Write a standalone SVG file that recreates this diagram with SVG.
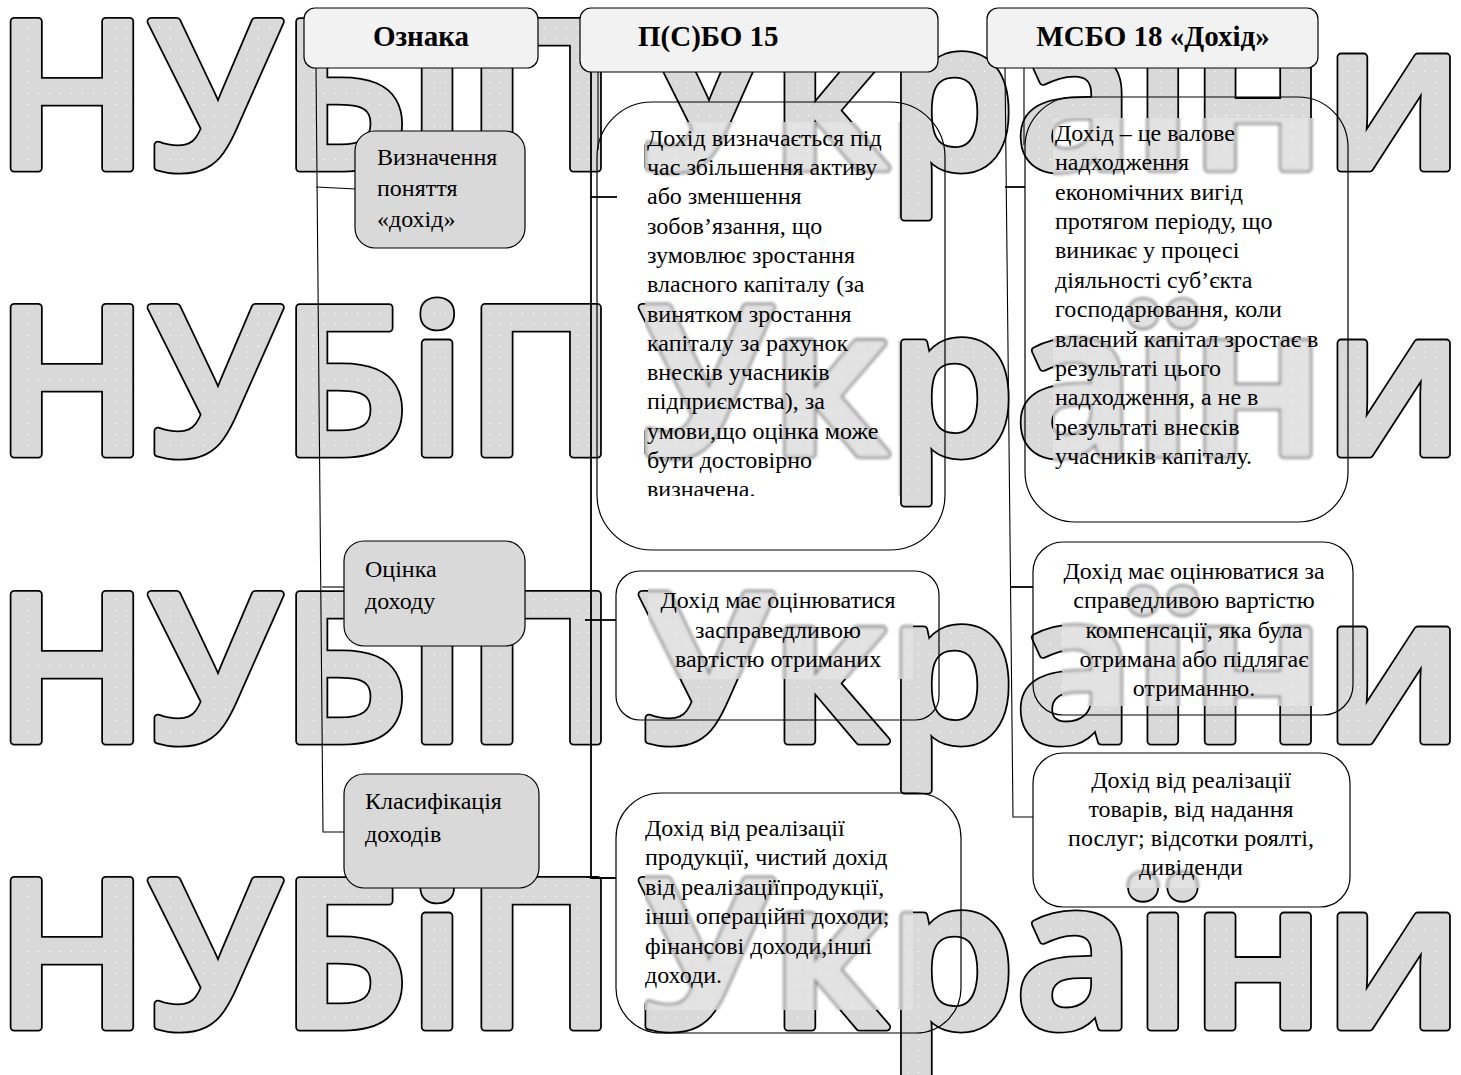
<svg xmlns="http://www.w3.org/2000/svg" xmlns:xlink="http://www.w3.org/1999/xlink" width="1461" height="1075" viewBox="0 0 1461 1075">
<style>
.wmt{font-family:"Open Sans","DejaVu Sans",sans-serif;font-weight:600;font-size:205px}
.wo{fill:#000;stroke:#000;stroke-width:9;stroke-linejoin:round}
.wi{fill:url(#dots);stroke:#d9d9d9;stroke-width:5.4;stroke-linejoin:round}
.hdr{fill:#f2f2f2;stroke:#000;stroke-width:1.2}
.gn{fill:#d9d9d9;stroke:#000;stroke-width:1.2}
.bx{fill:none;stroke:#000;stroke-width:1.2}
.ln{fill:none;stroke:#000;stroke-width:1.1}
.lt{fill:none;stroke:#000;stroke-width:1.8}
.ht{font-family:"Liberation Serif","Times New Roman",serif;font-weight:bold;font-size:29px;fill:#000}
.t{font-family:"Liberation Serif","Times New Roman",serif;font-size:24px;fill:#000}
.c{text-anchor:middle}
.patch{fill:#fff}
</style>
<defs>
<pattern id="dots" width="11" height="11" patternUnits="userSpaceOnUse">
<rect width="11" height="11" fill="#d9d9d9"/>
<circle cx="5.5" cy="5.5" r="0.8" fill="#fff"/>
</pattern>
<filter id="blur" x="-5%" y="-5%" width="110%" height="110%"><feGaussianBlur stdDeviation="1.4"/></filter>
<g id="wmText" class="wmt">
<text x="-5" y="168">НУБіП</text><text x="640" y="168">України</text>
<text x="-5" y="454">НУБіП</text><text x="640" y="454">України</text>
<text x="-5" y="741">НУБіП</text><text x="640" y="741">України</text>
<text x="-5" y="1027">НУБіП</text><text x="640" y="1027">України</text>
</g>
<g id="wm">
<use xlink:href="#wmText" class="wo"/>
<use xlink:href="#wmText" class="wi"/>
</g>
<clipPath id="cA"><rect x="645" y="122" width="255" height="374"/></clipPath>
<clipPath id="cB"><rect x="1053" y="118" width="268" height="356"/></clipPath>
<clipPath id="cC"><rect x="648" y="585" width="265" height="94"/></clipPath>
<clipPath id="cD"><rect x="1062" y="555" width="262" height="151"/></clipPath>
<clipPath id="cE"><rect x="1060" y="768" width="262" height="120"/></clipPath>
<clipPath id="cF"><rect x="645" y="812" width="268" height="198"/></clipPath>
</defs>
<rect width="1461" height="1075" fill="#fff"/>
<g id="watermark"><use xlink:href="#wm"/></g>

<g id="connectors">
<polyline class="ln" points="316,68 323,832 344,832"/>
<line class="ln" x1="316" y1="187" x2="356" y2="189"/>
<line class="ln" x1="322" y1="587" x2="344" y2="587"/>
<polyline class="lt" points="591,72 591,878 616,878"/>
<line class="ln" x1="598" y1="72" x2="598" y2="150"/>
<line class="lt" x1="591" y1="197" x2="617" y2="197"/>
<line class="lt" x1="585" y1="620" x2="616" y2="620"/>
<line class="lt" x1="586" y1="877" x2="591" y2="877"/>
<polyline class="ln" points="1005,68 1013,817 1033,817"/>
<line class="ln" x1="1024" y1="68" x2="1024" y2="145"/>
<line class="lt" x1="1005" y1="187" x2="1025" y2="187"/>
<line class="lt" x1="1011" y1="587" x2="1033" y2="587"/>
</g>

<g id="header-oznaka"><rect class="hdr" x="304" y="8" width="234" height="60" rx="11"/><text class="ht c" x="421" y="46">Ознака</text></g>
<g id="header-psbo"><rect class="hdr" x="580" y="8" width="358" height="64" rx="11"/><text class="ht" x="638" y="46">П(С)БО 15</text></g>
<g id="header-msbo"><rect class="hdr" x="987" y="8" width="331" height="60" rx="11"/><text class="ht c" x="1153" y="46">МСБО 18 «Дохід»</text></g>

<g id="node-vyznachennia"><rect class="gn" x="355" y="131" width="170" height="117" rx="20"/>
<text class="t" x="377" y="165">Визначення</text><text class="t" x="377" y="196">поняття</text><text class="t" x="377" y="227">«дохід»</text></g>
<g id="node-otsinka"><rect class="gn" x="344" y="541" width="181" height="105" rx="20"/>
<text class="t" x="365" y="577">Оцінка</text><text class="t" x="365" y="609">доходу</text></g>
<g id="node-klasyfikatsiia"><rect class="gn" x="344" y="774" width="195" height="114" rx="20"/>
<text class="t" x="365" y="809">Класифікація</text><text class="t" x="365" y="842">доходів</text></g>

<g id="psbo-def"><rect class="bx" x="597" y="102" width="348" height="448" rx="55"/>
<g clip-path="url(#cA)"><rect class="patch" x="645" y="122" width="255" height="374"/><use xlink:href="#wm" filter="url(#blur)" opacity="0.75"/>
<text class="t"><tspan x="647" y="145.7">Дохід визначається під</tspan><tspan x="647" y="175">час збільшення активу</tspan><tspan x="647" y="204.3">або зменшення</tspan><tspan x="647" y="233.6">зобов’язання, що</tspan><tspan x="647" y="262.9">зумовлює зростання</tspan><tspan x="647" y="292.2">власного капіталу (за</tspan><tspan x="647" y="321.5">винятком зростання</tspan><tspan x="647" y="350.8">капіталу за рахунок</tspan><tspan x="647" y="380.1">внесків учасників</tspan><tspan x="647" y="409.4">підприємства), за</tspan><tspan x="647" y="438.7">умови,що оцінка може</tspan><tspan x="647" y="468">бути достовірно</tspan><tspan x="647" y="497.3">визначена.</tspan></text></g></g>

<g id="msbo-def"><rect class="bx" x="1025" y="97" width="323" height="425" rx="50"/>
<g clip-path="url(#cB)"><rect class="patch" x="1053" y="118" width="268" height="356"/><use xlink:href="#wm" filter="url(#blur)" opacity="0.75"/>
<text class="t"><tspan x="1055" y="140.7">Дохід – це валове</tspan><tspan x="1055" y="170.1">надходження</tspan><tspan x="1055" y="199.5">економічних вигід</tspan><tspan x="1055" y="228.9">протягом періоду, що</tspan><tspan x="1055" y="258.3">виникає у процесі</tspan><tspan x="1055" y="287.7">діяльності суб’єкта</tspan><tspan x="1055" y="317.1">господарювання, коли</tspan><tspan x="1055" y="346.5">власний капітал зростає в</tspan><tspan x="1055" y="375.9">результаті цього</tspan><tspan x="1055" y="405.3">надходження, а не в</tspan><tspan x="1055" y="434.7">результаті внесків</tspan><tspan x="1055" y="464.1">учасників капіталу.</tspan></text></g></g>

<g id="psbo-otsinka"><rect class="bx" x="616" y="571" width="323" height="149" rx="24"/>
<g clip-path="url(#cC)"><rect class="patch" x="648" y="585" width="265" height="94"/><use xlink:href="#wm" filter="url(#blur)" opacity="0.75"/>
<text class="t c"><tspan x="778" y="608">Дохід має оцінюватися</tspan><tspan x="778" y="637.5">засправедливою</tspan><tspan x="778" y="667">вартістю отриманих</tspan></text></g></g>

<g id="msbo-otsinka"><rect class="bx" x="1033" y="542" width="320" height="173" rx="30"/>
<g clip-path="url(#cD)"><rect class="patch" x="1062" y="555" width="262" height="151"/><use xlink:href="#wm" filter="url(#blur)" opacity="0.75"/>
<text class="t c"><tspan x="1194" y="579">Дохід має оцінюватися за</tspan><tspan x="1194" y="608.3">справедливою вартістю</tspan><tspan x="1194" y="637.6">компенсації, яка була</tspan><tspan x="1194" y="666.9">отримана або підлягає</tspan><tspan x="1194" y="696.2">отриманню.</tspan></text></g></g>

<g id="msbo-klasyf"><rect class="bx" x="1033" y="753" width="317" height="154" rx="30"/>
<g clip-path="url(#cE)"><rect class="patch" x="1060" y="768" width="262" height="120"/><use xlink:href="#wm" filter="url(#blur)" opacity="0.75"/>
<text class="t c"><tspan x="1191" y="788">Дохід від реалізації</tspan><tspan x="1191" y="817">товарів, від надання</tspan><tspan x="1191" y="846">послуг; відсотки роялті,</tspan><tspan x="1191" y="875">дивіденди</tspan></text></g></g>

<g id="psbo-klasyf"><rect class="bx" x="616" y="793" width="345" height="240" rx="45"/>
<g clip-path="url(#cF)"><rect class="patch" x="645" y="812" width="268" height="198"/><use xlink:href="#wm" filter="url(#blur)" opacity="0.75"/>
<text class="t"><tspan x="645" y="836">Дохід від реалізації</tspan><tspan x="645" y="865.4">продукції, чистий дохід</tspan><tspan x="645" y="894.8">від реалізаціїпродукції,</tspan><tspan x="645" y="924.2">інші операційні доходи;</tspan><tspan x="645" y="953.6">фінансові доходи,інші</tspan><tspan x="645" y="983">доходи.</tspan></text></g></g>
</svg>
